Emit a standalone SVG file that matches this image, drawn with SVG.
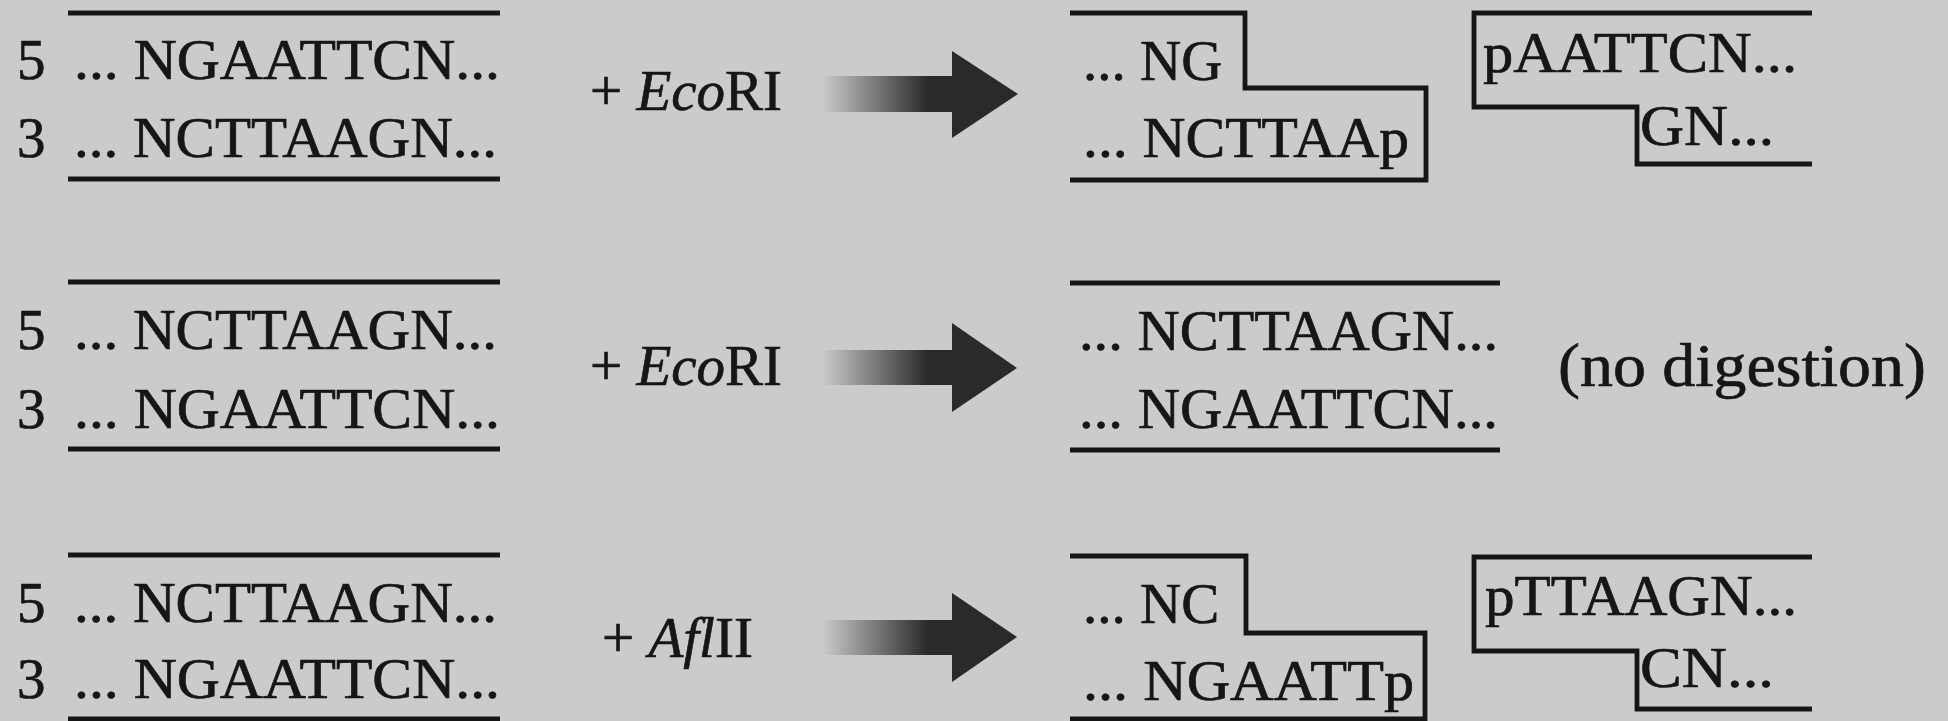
<svg xmlns="http://www.w3.org/2000/svg" width="1948" height="721" viewBox="0 0 1948 721">
<defs>
<style>
.t{font-family:"Liberation Serif","Times New Roman",serif;font-size:57px;fill:#161616;stroke:#161616;stroke-width:0.7}
.s{fill:none;stroke:#161616;stroke-width:4.8;stroke-linejoin:miter;stroke-linecap:butt}
.i{font-style:italic}
.head{fill:#2a2a2a}
</style>
<linearGradient id="shaft" x1="0" y1="0" x2="1" y2="0">
<stop offset="0" stop-color="#2a2a2a" stop-opacity="0"/>
<stop offset="0.8" stop-color="#2a2a2a" stop-opacity="1"/>
<stop offset="1" stop-color="#2a2a2a" stop-opacity="1"/>
</linearGradient>
</defs>
<rect width="1948" height="721" fill="#cbcbcb"/>

<g id="row1-input">
<path class="s" d="M68,13 H500 M68,179 H500"/>
<text class="t" x="17" y="79">5</text>
<text class="t" x="74" y="79" textLength="426" lengthAdjust="spacingAndGlyphs">... NGAATTCN...</text>
<text class="t" x="17" y="157">3</text>
<text class="t" x="74" y="157" textLength="423" lengthAdjust="spacingAndGlyphs">... NCTTAAGN...</text>
</g>
<g id="row1-enzyme">
<text class="t" x="590" y="110">+ <tspan class="i">Eco</tspan>RI</text>
</g>
<g id="row1-frag1">
<path class="s" d="M1070,13 H1245 V88 H1426 V180 H1070"/>
<text class="t" x="1083" y="80">... NG</text>
<text class="t" x="1083" y="157" textLength="326" lengthAdjust="spacingAndGlyphs">... NCTTAAp</text>
</g>
<g id="row1-frag2">
<path class="s" d="M1812,13 H1474 V107 H1637 V164 H1812"/>
<text class="t" x="1483" y="72" textLength="314" lengthAdjust="spacingAndGlyphs">pAATTCN...</text>
<text class="t" x="1640" y="145" textLength="134" lengthAdjust="spacingAndGlyphs">GN...</text>
</g>

<g id="row2-input">
<path class="s" d="M68,282 H500 M68,449 H500"/>
<text class="t" x="17" y="349">5</text>
<text class="t" x="74" y="349" textLength="423" lengthAdjust="spacingAndGlyphs">... NCTTAAGN...</text>
<text class="t" x="17" y="428">3</text>
<text class="t" x="74" y="428" textLength="426" lengthAdjust="spacingAndGlyphs">... NGAATTCN...</text>
</g>
<g id="row2-enzyme">
<text class="t" x="590" y="385">+ <tspan class="i">Eco</tspan>RI</text>
</g>
<g id="row2-product">
<path class="s" d="M1070,283 H1500 M1070,450 H1500"/>
<text class="t" x="1079" y="350" textLength="419" lengthAdjust="spacingAndGlyphs">... NCTTAAGN...</text>
<text class="t" x="1079" y="428" textLength="419" lengthAdjust="spacingAndGlyphs">... NGAATTCN...</text>
</g>
<g id="row2-note">
<text class="t" x="1558" y="386" style="font-size:62px" textLength="368" lengthAdjust="spacingAndGlyphs">(no digestion)</text>
</g>

<g id="row3-input">
<path class="s" d="M68,555 H500 M68,719 H500"/>
<text class="t" x="17" y="622">5</text>
<text class="t" x="74" y="622" textLength="423" lengthAdjust="spacingAndGlyphs">... NCTTAAGN...</text>
<text class="t" x="17" y="698">3</text>
<text class="t" x="74" y="698" textLength="426" lengthAdjust="spacingAndGlyphs">... NGAATTCN...</text>
</g>
<g id="row3-enzyme">
<text class="t" x="602" y="657">+ <tspan class="i">Afl</tspan>II</text>
</g>
<g id="row3-frag1">
<path class="s" d="M1070,556 H1246 V633 H1425 V719 H1070"/>
<text class="t" x="1083" y="623">... NC</text>
<text class="t" x="1083" y="700" textLength="331" lengthAdjust="spacingAndGlyphs">... NGAATTp</text>
</g>
<g id="row3-frag2">
<path class="s" d="M1812,557 H1474 V651 H1637 V709 H1812"/>
<text class="t" x="1485" y="615" textLength="312" lengthAdjust="spacingAndGlyphs">pTTAAGN...</text>
<text class="t" x="1640" y="687" textLength="134" lengthAdjust="spacingAndGlyphs">CN...</text>
</g>

<g id="connectors">
<rect x="822" y="76" width="132" height="36" fill="url(#shaft)"/>
<polygon class="head" points="952,51 1018,94 952,138"/>
<rect x="822" y="350" width="132" height="35" fill="url(#shaft)"/>
<polygon class="head" points="952,323 1017,368 952,412"/>
<rect x="822" y="620" width="132" height="35" fill="url(#shaft)"/>
<polygon class="head" points="952,593 1017,637 952,682"/>
</g>
</svg>
